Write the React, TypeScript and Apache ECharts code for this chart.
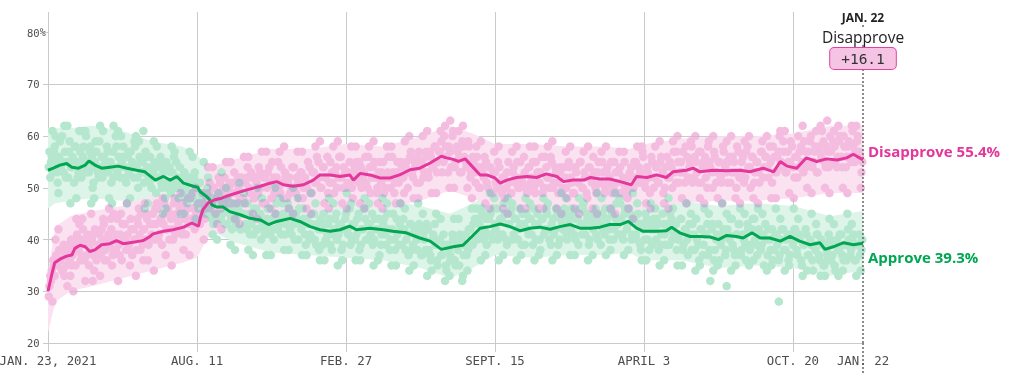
import React, { useEffect, useRef } from 'react';
import * as echarts from 'echarts';

// ---- axis ticks (days since JAN. 23, 2021) ----
const tickDays = [0, 200, 400, 600, 800, 1000, 1094];
const tickLabels = ['JAN. 23, 2021', 'AUG. 11', 'FEB. 27', 'SEPT. 15', 'APRIL 3', 'OCT. 20', 'JAN. 22'];
const yTicks = [20, 30, 40, 50, 60, 70, 80];
const lastDay = 1094;
const lastDateLabel = 'JAN. 22';
const approveFinal = 39.3;
const disapproveFinal = 55.4;

// ---- trend lines [day, value] ----
const approveTrend: [number, number][] = [
  [0, 53.4], [7, 53.8], [16, 54.4], [25, 54.7], [32, 54.0], [41, 53.8], [50, 54.4], [55, 55.2], [63, 54.4],
  [72, 53.8], [83, 54.0], [94, 54.2], [106, 53.8], [119, 53.4], [130, 53.1], [144, 51.5], [155, 52.2],
  [164, 51.5], [173, 52.2], [182, 50.9], [195, 50.3], [201, 50.1], [204, 49.3], [213, 48.3], [217, 47.7],
  [220, 46.7], [226, 46.3], [235, 46.3], [244, 45.4], [258, 44.8], [271, 44.1], [285, 43.8], [296, 42.9],
  [307, 43.5], [325, 44.1], [338, 43.5], [352, 42.5], [365, 41.9], [379, 41.6], [392, 41.9], [405, 42.6],
  [414, 41.9], [432, 42.2], [450, 41.9], [463, 41.6], [481, 41.3], [499, 40.3], [513, 39.7], [528, 38.1],
  [544, 38.6], [557, 38.9], [569, 40.6], [580, 42.2], [593, 42.5], [607, 43.0], [620, 42.5], [634, 41.7],
  [647, 42.2], [660, 42.4], [674, 42.0], [687, 42.5], [701, 42.9], [714, 42.2], [728, 42.2], [741, 42.4],
  [754, 42.9], [768, 42.9], [779, 43.5], [790, 42.2], [799, 41.6], [817, 41.6], [830, 41.7], [837, 42.4],
  [848, 41.3], [862, 40.6], [875, 40.6], [889, 40.5], [900, 40.0], [911, 40.8], [924, 40.6], [933, 40.3],
  [945, 41.3], [956, 40.3], [969, 40.3], [983, 39.7], [996, 40.6], [1009, 39.7], [1023, 39.0], [1036, 39.4],
  [1043, 38.1], [1054, 38.6], [1068, 39.4], [1081, 39.0], [1094, 39.3],
];
const disapproveTrend: [number, number][] = [
  [0, 30.0], [5, 33.2], [9, 35.5], [16, 36.2], [25, 36.8], [32, 37.0], [36, 38.3], [43, 38.9], [50, 38.6],
  [56, 37.7], [63, 38.0], [72, 39.0], [83, 39.2], [92, 39.8], [101, 39.2], [110, 39.4], [119, 39.6],
  [128, 39.8], [137, 40.6], [141, 41.1], [155, 41.6], [168, 41.9], [182, 42.4], [193, 43.2], [202, 42.6],
  [205, 44.5], [208, 45.8], [215, 47.1], [224, 47.7], [233, 48.0], [244, 48.6], [253, 49.0], [267, 49.6],
  [285, 50.3], [298, 50.9], [307, 51.2], [316, 50.6], [329, 50.3], [343, 50.6], [356, 51.5], [365, 52.5],
  [379, 52.5], [392, 52.2], [405, 52.5], [410, 51.5], [419, 52.8], [432, 52.5], [446, 51.9], [459, 51.9],
  [472, 52.5], [486, 53.5], [499, 53.8], [513, 54.8], [528, 56.1], [535, 55.8], [544, 55.5], [551, 55.1],
  [560, 55.6], [569, 54.2], [580, 52.5], [589, 52.5], [600, 51.9], [607, 50.9], [616, 51.5], [629, 52.0],
  [643, 52.2], [656, 52.0], [669, 52.7], [683, 52.2], [692, 51.2], [705, 51.5], [719, 51.5], [728, 52.0],
  [741, 51.7], [754, 51.7], [768, 51.2], [783, 50.6], [790, 52.2], [804, 52.0], [817, 52.5], [830, 52.0],
  [839, 53.1], [857, 53.4], [866, 53.8], [875, 53.1], [893, 53.4], [911, 53.3], [929, 53.4], [942, 53.1],
  [960, 53.8], [974, 53.1], [983, 55.1], [992, 54.2], [1005, 53.8], [1018, 55.8], [1032, 55.1], [1045, 55.6],
  [1059, 55.4], [1072, 55.8], [1081, 56.5], [1094, 55.4],
];

// ---- uncertainty bands ----
const bandDays = [0, 10, 30, 60, 100, 140, 180, 200, 215, 250, 300, 350, 400, 450, 500, 540, 570, 600, 650, 700, 750, 780, 800, 850, 900, 950, 1000, 1050, 1094];
const approveLo = [46, 47, 47.5, 48, 47.5, 45.5, 45, 44.5, 42, 39.5, 37.5, 37, 36.5, 36, 34.5, 32.5, 34.5, 37, 36.5, 37, 37, 37.5, 36, 36, 34.5, 35, 34.5, 33, 34];
const approveHi = [61.5, 61.5, 61.5, 62, 61, 59, 58, 56.5, 53.5, 51.5, 49.5, 49, 48.5, 48, 46.5, 45, 47, 49, 48.5, 49, 49, 49.5, 48, 47.5, 46.5, 47, 46.5, 44.5, 45.5];
const disapproveLo = [22, 28, 30, 31, 32.5, 34, 35.5, 36.5, 40.5, 42.5, 45, 45, 46.5, 46, 47.5, 49.5, 48, 46, 46, 45.5, 45.5, 45, 46, 47, 47.5, 47.5, 48, 49, 49];
const disapproveHi = [34, 42.5, 44.5, 45.5, 46.5, 48.5, 49.5, 50, 54, 55.5, 57.5, 57.5, 58.5, 58, 60, 62, 60.5, 58.5, 58.5, 58, 58, 57.5, 58.5, 59.5, 60, 60, 60.5, 62, 62];

// ---- individual polls [day, approve, disapprove] ----
const polls: [number, number, number][] = [
  [1, 54, 29], [2, 57, 31], [3, 52, 33], [5, 56, 34], [7, 53, 36], [9, 58, 33], [11, 55, 37], [13, 51, 35], [15, 56, 38],
  [17, 54, 36], [19, 60, 34], [21, 53, 39], [23, 57, 37], [25, 55, 35], [27, 52, 38], [29, 59, 36], [31, 54, 40], [33, 56, 37],
  [34, 55, 30], [35, 51, 39], [37, 58, 35], [39, 55, 41], [41, 53, 38], [43, 57, 40], [45, 52, 37], [47, 56, 42], [49, 54, 36],
  [51, 60, 39], [53, 55, 41], [55, 53, 35], [57, 58, 38], [59, 56, 40], [61, 51, 37], [63, 55, 42], [65, 57, 36], [67, 53, 39],
  [69, 59, 41], [71, 54, 37], [73, 52, 40], [75, 56, 43], [77, 55, 38], [79, 58, 36], [81, 53, 41], [83, 55, 39], [85, 51, 42],
  [87, 57, 37], [89, 54, 40], [91, 60, 38], [93, 53, 44], [95, 56, 39], [97, 52, 41], [99, 55, 36], [101, 58, 40], [103, 54, 43],
  [105, 51, 38], [107, 56, 41], [109, 53, 39], [111, 57, 44], [113, 55, 37], [115, 52, 42], [117, 58, 40], [119, 54, 38], [121, 50, 43],
  [123, 56, 41], [125, 53, 45], [127, 55, 39], [129, 51, 42], [131, 57, 40], [133, 54, 44], [135, 52, 39], [137, 56, 43], [139, 50, 41],
  [141, 53, 45], [143, 55, 40], [145, 49, 43], [147, 54, 46], [149, 52, 41], [151, 56, 44], [153, 50, 39], [155, 53, 43], [157, 48, 45],
  [159, 55, 42], [161, 51, 46], [163, 54, 40], [165, 49, 44], [167, 53, 42], [169, 56, 47], [171, 50, 41], [173, 52, 45], [175, 48, 43],
  [177, 54, 46], [179, 51, 42], [181, 49, 47], [183, 53, 44], [185, 50, 41], [187, 47, 46], [189, 52, 43], [191, 49, 48], [193, 51, 44],
  [195, 48, 46], [197, 53, 42], [199, 50, 45], [22, 62, 33], [46, 61, 44], [88, 62, 45], [60, 50, 32], [128, 61, 36],
  [202, 46, 47], [205, 49, 45], [208, 47, 49], [211, 45, 46], [214, 50, 48], [217, 46, 51], [220, 44, 47], [223, 48, 50], [226, 45, 48],
  [229, 49, 52], [232, 44, 46], [235, 47, 50], [238, 43, 49], [241, 48, 47], [244, 45, 51], [247, 42, 49], [250, 46, 53], [253, 44, 47],
  [256, 47, 50], [259, 42, 52], [262, 45, 48], [265, 43, 51], [268, 47, 54], [271, 41, 49], [274, 44, 52], [277, 46, 48], [280, 42, 51],
  [283, 45, 54], [286, 40, 50], [289, 44, 52], [292, 42, 47], [295, 46, 53], [298, 41, 51], [301, 44, 55], [304, 42, 49], [307, 47, 52],
  [310, 43, 50], [313, 41, 54], [316, 45, 48], [319, 43, 52], [322, 47, 51], [325, 42, 49], [328, 45, 54], [331, 40, 50], [334, 44, 52],
  [337, 46, 48], [340, 42, 53], [343, 44, 50], [346, 39, 51], [349, 43, 55], [352, 41, 49], [355, 45, 53], [358, 40, 51], [361, 43, 56],
  [364, 38, 52], [367, 42, 50], [370, 45, 54], [373, 40, 52], [376, 43, 49], [379, 39, 55], [382, 41, 51], [385, 44, 53], [388, 40, 50],
  [391, 43, 56], [394, 38, 52], [397, 42, 54], [400, 45, 50], [403, 41, 53], [406, 39, 51], [409, 43, 48], [412, 40, 54], [415, 44, 52],
  [418, 38, 55], [421, 42, 50], [424, 46, 53], [427, 40, 51], [430, 43, 56], [433, 41, 49], [436, 39, 54], [439, 44, 52], [442, 42, 50],
  [445, 37, 55], [448, 41, 53], [451, 44, 49], [454, 39, 52], [457, 42, 56], [460, 40, 50], [463, 45, 53], [466, 38, 51], [469, 41, 55],
  [472, 43, 52], [475, 39, 54], [478, 42, 49], [481, 40, 55], [484, 37, 53], [487, 43, 57], [490, 39, 52], [493, 41, 54], [496, 38, 56],
  [499, 42, 51], [502, 37, 55], [505, 40, 53], [508, 43, 57], [511, 38, 52], [514, 36, 56], [517, 41, 54], [520, 39, 58], [523, 35, 55],
  [526, 40, 57], [529, 37, 53], [532, 39, 60], [535, 34, 56], [538, 38, 58], [540, 36, 63], [541, 36, 54], [544, 40, 61], [547, 35, 55],
  [550, 38, 57], [553, 41, 53], [556, 32, 59], [559, 39, 56], [562, 37, 54], [565, 42, 58], [568, 39, 53], [571, 43, 55], [574, 40, 51],
  [577, 44, 54], [580, 41, 50], [583, 45, 53], [586, 42, 56], [589, 39, 51], [592, 44, 54], [595, 41, 49], [598, 46, 53], [601, 42, 51],
  [604, 40, 55], [607, 44, 50], [610, 41, 52], [613, 45, 48], [616, 39, 53], [619, 43, 51], [622, 46, 49], [625, 41, 54], [628, 44, 52],
  [631, 40, 50], [634, 43, 55], [637, 45, 51], [640, 39, 53], [643, 42, 49], [646, 44, 54], [649, 41, 52], [652, 46, 50], [655, 40, 55],
  [658, 43, 51], [661, 38, 53], [664, 44, 49], [667, 42, 56], [670, 45, 52], [673, 40, 50], [676, 43, 55], [679, 41, 51], [682, 46, 53],
  [685, 39, 49], [688, 44, 54], [691, 42, 50], [694, 45, 52], [697, 40, 48], [700, 43, 54], [703, 46, 51], [706, 41, 49], [709, 44, 53],
  [712, 39, 51], [715, 43, 55], [718, 46, 50], [721, 41, 52], [724, 44, 48], [727, 40, 54], [730, 43, 51], [733, 45, 53], [736, 41, 49],
  [739, 44, 55], [742, 39, 51], [745, 42, 53], [748, 46, 50], [751, 43, 54], [754, 40, 52], [757, 45, 49], [760, 42, 55], [763, 47, 51],
  [766, 41, 53], [769, 44, 49], [772, 40, 52], [775, 46, 50], [778, 43, 48], [781, 45, 53], [784, 41, 50], [787, 44, 55], [790, 40, 52],
  [793, 43, 54], [796, 38, 51], [799, 42, 56], [802, 45, 50], [805, 40, 53], [808, 43, 49], [811, 39, 55], [814, 42, 52], [817, 44, 54],
  [820, 38, 51], [823, 41, 56], [826, 43, 49], [829, 39, 54], [832, 42, 52], [835, 45, 55], [838, 40, 50], [841, 43, 53], [844, 38, 57],
  [847, 41, 51], [850, 44, 55], [853, 39, 53], [856, 42, 58], [859, 37, 52], [862, 41, 55], [865, 43, 51], [868, 38, 56], [871, 40, 53],
  [874, 36, 57], [877, 42, 51], [880, 39, 55], [883, 41, 52], [886, 37, 58], [889, 32, 54], [892, 43, 50], [895, 38, 56], [898, 41, 53],
  [901, 36, 55], [904, 40, 51], [907, 42, 57], [910, 38, 53], [911, 31, 55], [913, 41, 55], [916, 44, 51], [919, 39, 56], [922, 37, 53],
  [925, 41, 58], [928, 43, 52], [931, 38, 55], [934, 40, 51], [937, 36, 57], [940, 42, 54], [943, 39, 50], [946, 44, 56], [949, 40, 53],
  [952, 37, 55], [955, 41, 51], [958, 39, 57], [961, 35, 54], [964, 40, 56], [967, 42, 52], [970, 38, 55], [973, 36, 58], [976, 41, 53],
  [979, 39, 56], [981, 28, 57], [982, 37, 60], [985, 42, 54], [988, 38, 57], [991, 40, 53], [994, 36, 55], [997, 41, 59], [1000, 39, 54],
  [1003, 42, 56], [1006, 37, 52], [1009, 40, 57], [1012, 35, 55], [1015, 39, 59], [1018, 41, 54], [1021, 37, 57], [1024, 39, 60],
  [1027, 34, 55], [1030, 38, 58], [1033, 41, 53], [1036, 36, 57], [1039, 39, 61], [1042, 35, 55], [1045, 38, 58], [1046, 37, 63],
  [1048, 41, 54], [1051, 36, 57], [1054, 39, 59], [1057, 34, 55], [1060, 38, 56], [1063, 41, 60], [1066, 37, 54], [1069, 39, 58],
  [1072, 36, 56], [1075, 40, 59], [1078, 38, 55], [1081, 41, 58], [1084, 36, 57], [1087, 39, 60], [1090, 37, 56], [1093, 40, 55],
];

// ---- further polls [day, approve, disapprove] ----
const morePolls: [number, number, number][] = [
  [4, 55, 32], [8, 57, 35], [12, 53, 36], [16, 59, 38], [20, 55, 34], [24, 52, 37], [28, 57, 39], [32, 54, 35], [36, 58, 40],
  [40, 52, 38], [44, 55, 36], [48, 58, 40], [52, 53, 37], [56, 57, 39], [60, 54, 41], [64, 59, 37], [68, 52, 38], [72, 56, 42],
  [76, 53, 36], [80, 57, 40], [84, 55, 44], [88, 52, 38], [92, 58, 41], [96, 54, 37], [100, 56, 43], [104, 52, 40], [108, 57, 38],
  [112, 54, 42], [116, 59, 40], [120, 52, 44], [124, 55, 38], [128, 53, 42], [132, 56, 45], [136, 51, 40], [140, 54, 43], [144, 52, 46],
  [148, 55, 40], [152, 51, 44], [156, 54, 47], [160, 50, 42], [164, 53, 45], [168, 51, 40], [172, 55, 44], [176, 50, 47], [180, 52, 41],
  [184, 48, 45], [188, 51, 48], [192, 49, 43], [196, 52, 46], [200, 47, 44],
  [204, 51, 43], [207, 48, 47], [210, 46, 44], [213, 49, 48], [216, 45, 49], [219, 48, 46], [222, 43, 50], [225, 47, 45], [228, 44, 49],
  [231, 48, 51], [234, 45, 47], [237, 47, 52], [240, 43, 48], [243, 46, 50], [246, 44, 47], [249, 47, 51], [252, 43, 49], [255, 46, 52],
  [258, 42, 48], [261, 45, 51], [264, 47, 47], [267, 42, 52], [270, 45, 50], [273, 43, 53], [276, 41, 48], [279, 46, 52], [282, 42, 49],
  [285, 45, 53], [288, 43, 47], [291, 41, 52], [294, 44, 50], [297, 46, 54], [300, 42, 48], [303, 40, 52], [306, 45, 50], [309, 42, 55],
  [312, 44, 49], [315, 47, 51], [318, 41, 53], [321, 44, 48], [324, 46, 52], [327, 41, 50], [330, 43, 54], [333, 45, 49], [336, 40, 51],
  [339, 43, 53], [342, 46, 48], [345, 41, 52], [348, 44, 50], [351, 40, 54], [354, 43, 49], [357, 45, 53], [360, 39, 51], [363, 42, 55],
  [366, 44, 50], [369, 39, 54], [372, 43, 52], [375, 41, 56], [378, 44, 51], [381, 38, 53], [384, 42, 49], [387, 45, 54], [390, 41, 52],
  [393, 43, 56], [396, 39, 50], [399, 44, 53], [402, 42, 51], [405, 46, 55], [408, 40, 50], [411, 43, 53], [414, 41, 55], [417, 45, 51],
  [420, 39, 54], [423, 42, 52], [426, 44, 56], [429, 40, 50], [432, 43, 54], [435, 45, 52], [438, 40, 55], [441, 42, 49], [444, 44, 53],
  [447, 39, 51], [450, 43, 55], [453, 41, 50], [456, 45, 53], [459, 38, 52], [462, 42, 56], [465, 40, 49], [468, 44, 53], [471, 39, 51],
  [474, 42, 55], [477, 44, 52], [480, 38, 54], [483, 41, 50], [486, 43, 56], [489, 38, 53], [492, 42, 55], [495, 40, 51], [498, 43, 57],
  [501, 37, 54], [504, 41, 52], [507, 38, 56], [510, 42, 53], [513, 37, 57], [516, 40, 54], [519, 43, 58], [522, 36, 53], [525, 40, 57],
  [528, 37, 59], [531, 41, 55], [534, 35, 58], [537, 39, 53], [540, 37, 57], [543, 41, 60], [546, 36, 54], [549, 39, 58], [552, 35, 56],
  [555, 40, 53], [558, 37, 58], [561, 41, 55], [564, 38, 59], [567, 42, 52], [570, 39, 56], [573, 44, 53], [576, 40, 56], [579, 43, 50],
  [582, 46, 54], [585, 40, 52], [588, 44, 55], [591, 41, 50], [594, 45, 54], [597, 40, 49], [600, 43, 53], [603, 46, 50], [606, 41, 54],
  [609, 44, 49], [612, 47, 52], [615, 40, 50], [618, 43, 55], [621, 45, 49], [624, 40, 53], [627, 44, 51], [630, 42, 55], [633, 46, 50],
  [636, 39, 52], [639, 43, 56], [642, 45, 50], [645, 41, 54], [648, 44, 51], [651, 39, 55], [654, 43, 49], [657, 45, 53], [660, 40, 51],
  [663, 44, 56], [666, 41, 50], [669, 46, 54], [672, 42, 52], [675, 39, 56], [678, 44, 50], [681, 42, 54], [684, 45, 51], [687, 40, 53],
  [690, 43, 49], [693, 46, 54], [696, 41, 50], [699, 44, 55], [702, 42, 52], [705, 45, 49], [708, 40, 54], [711, 44, 51], [714, 46, 55],
  [717, 41, 50], [720, 43, 53], [723, 45, 49], [726, 39, 54], [729, 44, 52], [732, 42, 56], [735, 46, 50], [738, 40, 53], [741, 43, 51],
  [744, 45, 55], [747, 41, 49], [750, 44, 53], [753, 42, 51], [756, 46, 55], [759, 40, 50], [762, 44, 53], [765, 43, 49], [768, 47, 54],
  [771, 41, 51], [774, 45, 55], [777, 42, 49], [780, 46, 52], [783, 40, 54], [786, 44, 50], [789, 41, 55], [792, 45, 51], [795, 39, 53],
  [798, 43, 57], [801, 40, 51], [804, 44, 54], [807, 38, 52], [810, 42, 56], [813, 44, 50], [816, 40, 54], [819, 43, 51], [822, 39, 55],
  [825, 45, 53], [828, 41, 50], [831, 43, 56], [834, 39, 52], [837, 44, 54], [840, 41, 57], [843, 43, 51], [846, 40, 55], [849, 44, 53],
  [852, 38, 57], [855, 42, 51], [858, 40, 56], [861, 43, 54], [864, 38, 58], [867, 41, 52], [870, 44, 55], [873, 39, 51], [876, 42, 57],
  [879, 37, 54], [882, 41, 56], [885, 43, 50], [888, 38, 55], [891, 42, 53], [894, 36, 57], [897, 40, 51], [900, 43, 55], [903, 39, 52],
  [906, 41, 58], [909, 37, 54], [912, 42, 51], [915, 40, 56], [918, 44, 53], [921, 38, 55], [924, 41, 50], [927, 43, 57], [930, 37, 53],
  [933, 41, 56], [936, 39, 52], [939, 43, 58], [942, 38, 54], [945, 42, 56], [948, 44, 51], [951, 39, 55], [954, 42, 53], [957, 38, 57],
  [960, 41, 52], [963, 43, 56], [966, 37, 54], [969, 40, 58], [972, 42, 51], [975, 38, 56], [978, 41, 53], [981, 36, 57], [984, 40, 55],
  [987, 42, 59], [990, 38, 53], [993, 41, 57], [996, 37, 55], [999, 40, 58], [1002, 42, 52], [1005, 38, 56], [1008, 41, 54], [1011, 36, 58],
  [1014, 39, 53], [1017, 42, 57], [1020, 37, 55], [1023, 40, 59], [1026, 36, 54], [1029, 39, 57], [1032, 41, 53], [1035, 37, 58],
  [1038, 40, 56], [1041, 35, 59], [1044, 39, 54], [1047, 36, 57], [1050, 40, 60], [1053, 37, 55], [1056, 35, 58], [1059, 40, 54],
  [1062, 38, 59], [1065, 41, 56], [1068, 36, 60], [1071, 39, 54], [1074, 42, 58], [1077, 37, 56], [1080, 40, 61], [1083, 36, 55],
  [1086, 39, 59], [1089, 41, 57], [1092, 38, 53],
];

// ---- polls far from the average [day, approve, disapprove] ----
const outerPolls: [number, number, number][] = [
  [6, 61, 28], [14, 49, 42], [26, 62, 31], [38, 48, 44], [50, 61, 32], [58, 47, 45], [70, 62, 33], [82, 48, 46], [94, 61, 32],
  [106, 47, 47], [118, 60, 33], [130, 46, 47], [142, 59, 34], [154, 45, 48], [166, 58, 35], [178, 45, 49], [190, 57, 37], [198, 44, 50],
  [10, 60, 40], [30, 47, 33], [42, 61, 43], [62, 48, 34], [74, 61, 44], [86, 47, 35], [98, 60, 45], [110, 48, 35], [122, 59, 46],
  [134, 47, 36], [146, 58, 47], [158, 46, 37], [170, 57, 48], [182, 45, 38], [194, 56, 49],
  [209, 55, 40], [221, 41, 54], [233, 53, 42], [245, 39, 55], [257, 51, 43], [269, 38, 56], [281, 50, 44], [293, 37, 57], [305, 50, 45],
  [317, 38, 58], [329, 50, 45], [341, 37, 57], [353, 49, 45], [365, 36, 59], [377, 48, 46], [389, 35, 59], [401, 49, 46], [413, 36, 58],
  [425, 48, 46], [437, 35, 59], [449, 48, 46], [461, 35, 58], [473, 47, 47], [485, 34, 60], [497, 47, 48], [509, 33, 61], [521, 45, 49],
  [533, 32, 62], [545, 44, 50], [557, 33, 62], [569, 46, 48], [581, 36, 59], [593, 49, 46], [605, 36, 58], [617, 48, 45], [629, 36, 58],
  [641, 48, 46], [653, 36, 58], [665, 48, 46], [677, 36, 59], [689, 49, 45], [701, 37, 58], [713, 48, 45], [725, 36, 58], [737, 49, 45],
  [749, 37, 58], [761, 49, 45], [773, 37, 57], [785, 49, 44], [797, 36, 58], [809, 47, 46], [821, 35, 59], [833, 48, 46], [845, 35, 60],
  [857, 47, 47], [869, 34, 60], [881, 46, 47], [893, 34, 60], [905, 47, 47], [917, 34, 60], [929, 46, 47], [941, 35, 60], [953, 46, 47],
  [965, 34, 60], [977, 46, 48], [989, 34, 61], [1001, 46, 48], [1013, 33, 62], [1025, 45, 49], [1037, 33, 62], [1049, 44, 49],
  [1061, 33, 62], [1073, 45, 49], [1085, 33, 62],
  [215, 52, 54], [227, 40, 43], [239, 50, 55], [251, 38, 44], [263, 49, 56], [275, 37, 45], [287, 48, 57], [299, 37, 46], [311, 48, 57],
  [323, 38, 46], [335, 48, 57], [347, 37, 46], [359, 47, 58], [371, 36, 47], [383, 47, 58], [395, 36, 47], [407, 47, 58], [419, 36, 47],
  [431, 47, 58], [443, 36, 47], [455, 47, 58], [467, 35, 47], [479, 46, 59], [491, 35, 48], [503, 45, 60], [515, 34, 49], [527, 44, 61],
  [539, 33, 50], [551, 44, 61], [563, 34, 50], [575, 46, 58], [587, 37, 47], [599, 48, 57], [611, 37, 46], [623, 47, 57], [635, 37, 46],
  [647, 47, 58], [659, 37, 46], [671, 47, 58], [683, 37, 46], [695, 48, 57], [707, 37, 46], [719, 47, 57], [731, 37, 46], [743, 48, 57],
  [755, 38, 46], [767, 48, 57], [779, 38, 46], [791, 47, 58], [803, 36, 47], [815, 46, 58], [827, 36, 47], [839, 46, 59], [851, 35, 48],
  [863, 45, 59], [875, 35, 48], [887, 45, 59], [899, 35, 48], [911, 45, 59], [923, 35, 48], [935, 45, 59], [947, 36, 48], [959, 45, 59],
  [971, 35, 48], [983, 44, 61], [995, 35, 49], [1007, 44, 60], [1019, 34, 50], [1031, 43, 61], [1043, 33, 50], [1055, 43, 61],
  [1067, 34, 50], [1079, 43, 62], [1091, 34, 50],
];

const PINK_LINE = '#e4369b';
const GREEN_LINE = '#00a651';
const PINK_DOT = '#f4bde0';
const GREEN_DOT = '#b5e7ce';
const PINK_BAND = '#fbe2f1';
const GREEN_BAND = '#ddf4e8';
const GRID = '#cacaca';
const MONO = '"DejaVu Sans Mono", "Liberation Mono", monospace';
const SANS = '"Open Sans", "Noto Sans", sans-serif';

const allPolls = polls.concat(morePolls, outerPolls);

function bandSeries(name: string, lo: number[], hi: number[], color: string) {
  return {
    type: 'custom',
    name,
    silent: true,
    z: 1,
    data: bandDays.map((d, i) => [d, lo[i], hi[i]]),
    encode: { x: 0, y: [1, 2] },
    renderItem: (params: any, api: any) => {
      if (params.dataIndex !== 0) return { type: 'group', children: [] };
      const top = bandDays.map((d, i) => api.coord([d, hi[i]]));
      const bottom = bandDays.map((d, i) => api.coord([d, lo[i]])).reverse();
      return {
        type: 'polygon',
        shape: { points: top.concat(bottom) },
        style: { fill: color },
        silent: true,
      };
    },
  };
}

function annot(offsetY: number, text: string, style: any) {
  return {
    coord: [lastDay, 84],
    label: { show: true, position: 'inside', offset: [0, offsetY], formatter: text, ...style },
  };
}

export default function App() {
  const ref = useRef<HTMLDivElement>(null);

  useEffect(() => {
    if (!ref.current) return;
    const chart = echarts.init(ref.current, null, { renderer: 'svg' });
    const net = (disapproveFinal - approveFinal).toFixed(1);

    chart.setOption({
      animation: false,
      grid: { left: 48, right: 156, top: 12, bottom: 36, containLabel: false, outerBoundsMode: 'none' },
      xAxis: [
        {
          type: 'value',
          min: 0,
          max: lastDay,
          axisLine: { show: false },
          axisTick: { show: true, length: 9, customValues: tickDays.slice(0, -1), lineStyle: { color: GRID } },
          axisLabel: {
            customValues: tickDays,
            formatter: (v: number) => {
              const i = tickDays.indexOf(v);
              return i >= 0 ? tickLabels[i] : '';
            },
            margin: 11,
            fontFamily: MONO,
            fontSize: 12.4,
            color: '#4d4d4d',
            showMinLabel: true,
            showMaxLabel: true,
          },
          splitLine: { show: true, lineStyle: { color: GRID, width: 1 } },
        },
        {
          type: 'value',
          min: 0,
          max: lastDay,
          position: 'bottom',
          axisLine: { show: false },
          axisLabel: { show: false },
          splitLine: { show: false },
          axisTick: { show: true, length: 32, customValues: [lastDay], lineStyle: { color: '#666', type: [2, 2], width: 1.5 } },
        },
      ],
      yAxis: {
        type: 'value',
        min: 20,
        max: 84,
        axisLine: { show: false },
        axisTick: { show: true, length: 5, customValues: yTicks, lineStyle: { color: GRID } },
        axisLabel: {
          customValues: yTicks,
          align: 'left',
          margin: 21,
          fontFamily: MONO,
          fontSize: 10.5,
          color: '#4d4d4d',
          formatter: (v: number) => (v % 10 !== 0 ? '' : v === 80 ? '80{p|%}' : String(v)),
          rich: { p: { fontFamily: MONO, fontSize: 10, color: '#4d4d4d' } },
        },
        splitLine: { show: true, showMaxLine: false, lineStyle: { color: GRID, width: 1 } },
      },
      series: [
        bandSeries('approveBand', approveLo, approveHi, GREEN_BAND),
        bandSeries('disapproveBand', disapproveLo, disapproveHi, PINK_BAND),
        {
          type: 'scatter',
          name: 'approvePolls',
          silent: true,
          z: 2,
          symbolSize: 8.5,
          itemStyle: { color: GREEN_DOT, opacity: 1 },
          data: allPolls.map((p) => [p[0], p[1]]),
        },
        {
          type: 'scatter',
          name: 'disapprovePolls',
          silent: true,
          z: 3,
          symbolSize: 8.5,
          itemStyle: { color: PINK_DOT, opacity: 1 },
          data: allPolls.map((p) => [p[0], p[2]]),
        },
        {
          type: 'line',
          name: 'Approve',
          z: 5,
          showSymbol: false,
          symbol: 'none',
          silent: true,
          lineStyle: { color: GREEN_LINE, width: 3 },
          itemStyle: { color: GREEN_LINE },
          data: approveTrend,
          endLabel: {
            show: true,
            formatter: `Approve ${approveFinal}%`,
            color: GREEN_LINE,
            fontFamily: SANS,
            fontWeight: 'bold',
            fontSize: 15,
            distance: 5,
            offset: [0, 14],
          },
        },
        {
          type: 'line',
          name: 'Disapprove',
          z: 6,
          showSymbol: false,
          symbol: 'none',
          silent: true,
          lineStyle: { color: PINK_LINE, width: 3 },
          itemStyle: { color: PINK_LINE },
          data: disapproveTrend,
          endLabel: {
            show: true,
            formatter: `Disapprove ${disapproveFinal}%`,
            color: PINK_LINE,
            fontFamily: SANS,
            fontWeight: 'bold',
            fontSize: 15,
            distance: 5,
            offset: [0, -9],
          },
          markLine: {
            silent: true,
            symbol: ['none', 'none'],
            label: { show: false },
            lineStyle: { color: '#666', type: [2, 2], width: 1.5 },
            data: [{ xAxis: lastDay }],
          },
          markPoint: {
            silent: true,
            symbol: 'circle',
            symbolSize: 1,
            itemStyle: { color: 'rgba(0,0,0,0)' },
            data: [
              annot(5.5, lastDateLabel, {
                fontFamily: SANS, fontWeight: 'bold', fontSize: 12, color: '#222', lineHeight: 13,
                backgroundColor: '#fff', padding: [0, 2],
              }),
              annot(24.5, 'Disapprove', {
                fontFamily: SANS, fontSize: 15.5, color: '#222', lineHeight: 16,
                backgroundColor: '#fff', padding: [0, 3],
              }),
              annot(46.5, `+${net}`, {
                fontFamily: MONO, fontSize: 14.5, color: '#333', lineHeight: 15,
                backgroundColor: '#f5c3e3', borderColor: '#e0449f', borderWidth: 1, borderRadius: 4,
                padding: [3, 11],
              }),
            ],
          },
        },
      ],
    });

    return () => chart.dispose();
  }, []);

  const blendSel = [
    `[fill="${PINK_DOT}"]`,
    `[fill="${PINK_DOT.toUpperCase()}"]`,
    '[fill="rgb(244,189,224)"]',
    '[fill="rgb(244, 189, 224)"]',
  ].map((s) => `.approval-chart ${s}`).join(', ');

  return (
    <>
      <style>{`${blendSel} { mix-blend-mode: darken; }`}</style>
      <div
        ref={ref}
        className="approval-chart"
        style={{ position: 'fixed', left: 0, top: 0, width: 1019, height: 379, background: '#fff' }}
      />
    </>
  );
}
